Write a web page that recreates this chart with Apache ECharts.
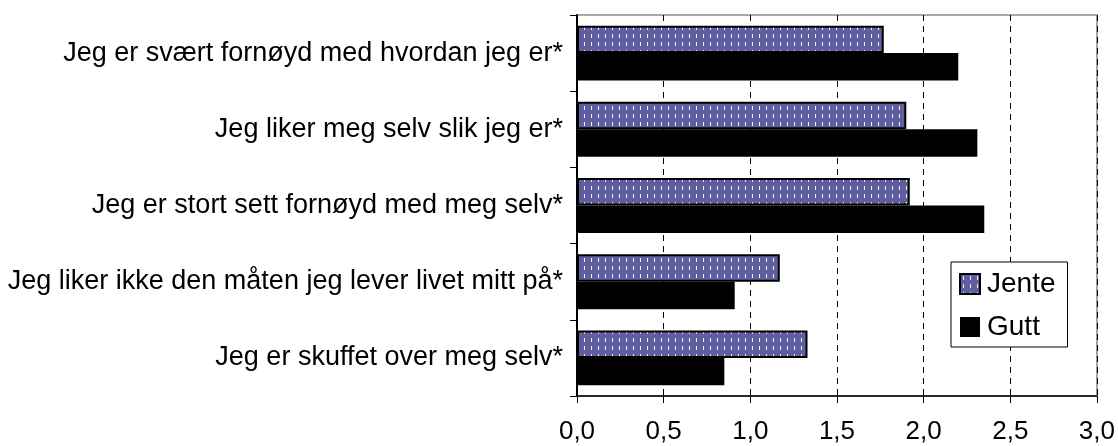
<!DOCTYPE html>
<html>
<head>
<meta charset="utf-8">
<script src="https://cdn.jsdelivr.net/npm/echarts@6/dist/echarts.min.js"></script>
<style>
  html, body { margin: 0; padding: 0; background: #ffffff; }
  #chart { width: 1118px; height: 446px; }
</style>
</head>
<body>
<div id="chart"></div>
<script>
const categories = [
  'Jeg er svært fornøyd med hvordan jeg er*',
  'Jeg liker meg selv slik jeg er*',
  'Jeg er stort sett fornøyd med meg selv*',
  'Jeg liker ikke den måten jeg lever livet mitt på*',
  'Jeg er skuffet over meg selv*'
];
const seriesNames = ['Jente', 'Gutt'];
const jenteValues = [1.77, 1.90, 1.92, 1.17, 1.33];
const guttValues = [2.20, 2.31, 2.35, 0.91, 0.85];
const xTicks = { min: 0, max: 3, interval: 0.5 };

function makePattern() {
  const c = document.createElement('canvas');
  c.width = 7; c.height = 8;
  const ctx = c.getContext('2d');
  ctx.fillStyle = '#5f5f9f';
  ctx.fillRect(0, 0, 7, 8);
  ctx.fillStyle = '#eeeef8';
  ctx.fillRect(3, 2, 1, 4);
  return c;
}

const FONT = '"Liberation Sans", Arial, sans-serif';
const chart = echarts.init(document.getElementById('chart'), null, { renderer: 'canvas' });
chart.setOption({
  backgroundColor: '#ffffff',
  animation: false,
  textStyle: { fontFamily: FONT },
  grid: {
    left: 577, right: 21, top: 15, bottom: 50,
    show: true, borderColor: '#8c8c8c', borderWidth: 1.5, backgroundColor: '#ffffff'
  },
  legend: {
    data: seriesNames,
    orient: 'vertical',
    left: 951, top: 262,
    itemWidth: 20, itemHeight: 20, itemGap: 15,
    padding: [8, 12, 6, 8],
    borderColor: '#000000', borderWidth: 1,
    backgroundColor: '#ffffff',
    icon: 'rect',
    textStyle: { fontSize: 28, color: '#000000', fontFamily: FONT, padding: [0, 0, 0, 2] }
  },
  xAxis: {
    type: 'value',
    min: xTicks.min, max: xTicks.max, interval: xTicks.interval,
    axisLine: { show: true, lineStyle: { color: '#000000', width: 1.5 } },
    axisTick: { show: true, length: 7, lineStyle: { color: '#000000', width: 1 } },
    axisLabel: {
      color: '#000000', fontSize: 26, fontFamily: FONT, margin: 23,
      formatter: v => v.toFixed(1).replace('.', ',')
    },
    splitLine: { show: true, lineStyle: { color: '#000000', type: [6, 5], width: 1 } }
  },
  yAxis: {
    type: 'category',
    data: categories,
    inverse: true,
    axisLine: { show: true, lineStyle: { color: '#000000', width: 2 } },
    axisTick: { show: true, length: 7, alignWithLabel: false, lineStyle: { color: '#000000', width: 1 } },
    axisLabel: { color: '#000000', fontSize: 27, fontFamily: FONT, margin: 14 },
    splitLine: { show: false }
  },
  series: [
    {
      name: seriesNames[0], type: 'bar', data: jenteValues,
      barGap: '0%', barCategoryGap: '28%',
      itemStyle: { color: { image: makePattern(), repeat: 'repeat' }, borderColor: '#000000', borderWidth: 2 }
    },
    {
      name: seriesNames[1], type: 'bar', data: guttValues,
      barGap: '0%', barCategoryGap: '28%',
      itemStyle: { color: '#000000' }
    }
  ]
});
</script>
</body>
</html>
